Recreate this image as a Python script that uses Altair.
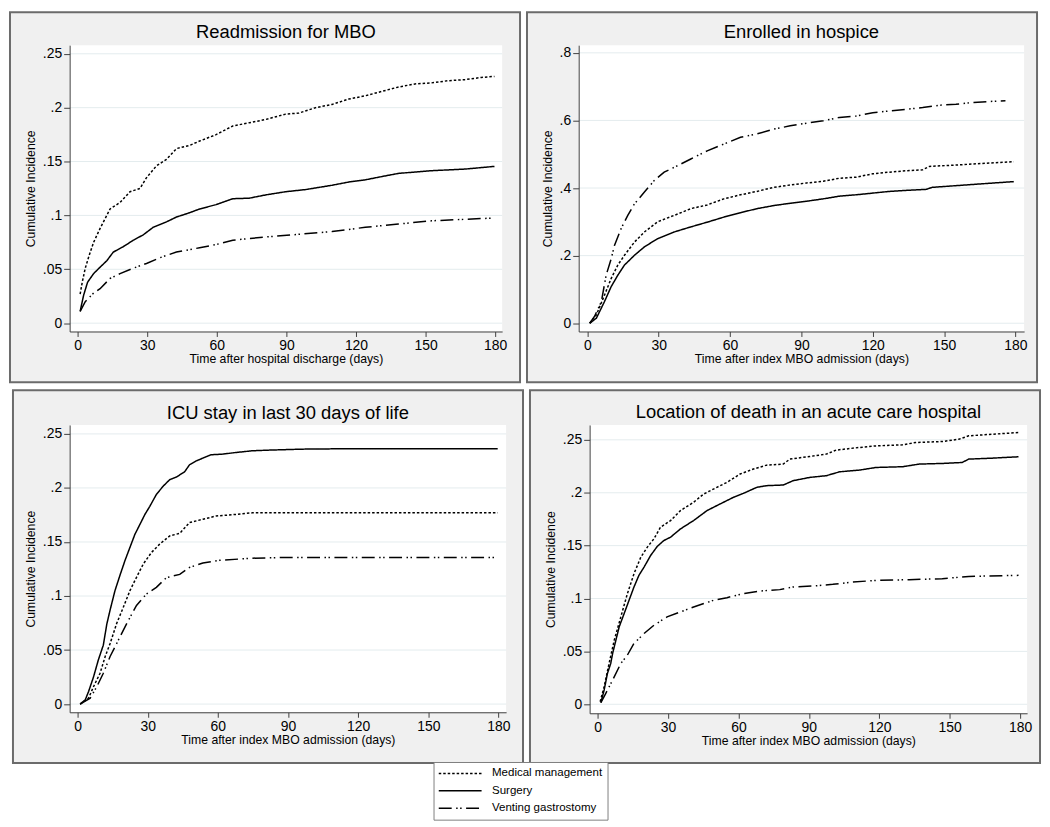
import altair as alt
import pandas as pd

FONT = "Liberation Sans"
GROUPS = ["Medical management", "Surgery", "Venting gastrostomy"]
DASH_PATTERNS = [[2.5, 2.0], [1.0, 0.0], [13.0, 4.5, 1.5, 2.5, 1.5, 4.5]]

TITLES = [
    "Readmission for MBO",
    "Enrolled in hospice",
    "ICU stay in last 30 days of life",
    "Location of death in an acute care hospital",
]
X_TITLES = [
    "Time after hospital discharge (days)",
    "Time after index MBO admission (days)",
    "Time after index MBO admission (days)",
    "Time after index MBO admission (days)",
]
X_TICKS = [0, 30, 60, 90, 120, 150, 180]
Y_TICKS_A = [0, 0.05, 0.1, 0.15, 0.2, 0.25]
Y_TICKS_B = [0, 0.2, 0.4, 0.6, 0.8]

# ---- Panel 1: Readmission for MBO ----
p1_med_day = [1.1, 2, 3.3, 5, 6.9, 9.7, 14, 18.3, 22.6, 26.9, 29.7, 34, 38.3, 42.6, 48.3, 52.6, 59.7,
              66.9, 74, 81, 89.7, 95.4, 102.6, 109.7, 116.9, 124, 131, 138, 145.4, 152.6, 159.7,
              166.9, 174, 179.7]
p1_med_ci = [0.027, 0.038, 0.051, 0.063, 0.075, 0.088, 0.106, 0.112, 0.122, 0.125, 0.135, 0.146,
             0.152, 0.162, 0.165, 0.169, 0.175, 0.183, 0.186, 0.189, 0.194, 0.195, 0.200, 0.203,
             0.208, 0.211, 0.215, 0.219, 0.222, 0.223, 0.225, 0.226, 0.228, 0.229]
p1_sur_day = [1.1, 2.6, 4.3, 6.9, 9.7, 12.6, 15.4, 19.7, 24, 28.3, 32.6, 38.3, 42.6, 48.3, 52.6,
              59.7, 66.9, 74, 81, 89.7, 98.3, 109.7, 116.9, 124, 131, 138.3, 152.6, 167, 179.7]
p1_sur_ci = [0.011, 0.026, 0.038, 0.046, 0.052, 0.058, 0.066, 0.071, 0.077, 0.082, 0.089, 0.094,
             0.0985, 0.1025, 0.106, 0.110, 0.1155, 0.116, 0.119, 0.122, 0.124, 0.128, 0.131, 0.133,
             0.136, 0.139, 0.1415, 0.143, 0.1455]
p1_ven_day = [1.1, 3.3, 6.9, 9.7, 14, 18.3, 24, 29.7, 35.4, 42.6, 52.6, 59.7, 66.9, 81, 95.4, 109.7,
              124, 138.3, 152.6, 167, 179.7]
p1_ven_ci = [0.011, 0.02, 0.028, 0.032, 0.0415, 0.046, 0.051, 0.0554, 0.0607, 0.066, 0.070, 0.073,
             0.077, 0.080, 0.0825, 0.085, 0.089, 0.092, 0.095, 0.0964, 0.0976]

# ---- Panel 2: Enrolled in hospice ----
p2_med_day = [1, 3.8, 7.2, 10, 12.8, 15.6, 19.8, 24, 29.5, 36.5, 43.5, 50.4, 57.4, 64.4, 71.3, 78.3,
              85.3, 92.2, 99.2, 106, 113, 120, 127, 134, 141, 143.8, 155, 169, 179.3]
p2_med_ci = [0, 0.025, 0.083, 0.132, 0.172, 0.201, 0.24, 0.27, 0.30, 0.319, 0.339, 0.35, 0.368, 0.38,
             0.39, 0.402, 0.409, 0.415, 0.42, 0.429, 0.432, 0.442, 0.447, 0.451, 0.454, 0.464, 0.468,
             0.474, 0.478]
p2_sur_day = [1, 3.8, 7.2, 10, 12.8, 15.6, 19.8, 24, 29.5, 36.5, 43.5, 50.4, 57.4, 64.4, 71.3, 78.3,
              85.3, 92.2, 99.2, 106, 113, 120, 127, 134, 142.4, 145, 155, 169, 179.3]
p2_sur_ci = [0, 0.015, 0.064, 0.108, 0.142, 0.172, 0.201, 0.226, 0.25, 0.27, 0.285, 0.299, 0.314,
             0.327, 0.339, 0.348, 0.355, 0.361, 0.368, 0.376, 0.38, 0.385, 0.39, 0.393, 0.396, 0.402,
             0.407, 0.414, 0.419]
p2_ven_day = [1, 3, 5.9, 7.9, 10, 11.4, 14.2, 17, 19.8, 24, 28.1, 32.3, 37.9, 43.5, 50.4, 57.4, 64.4,
              71.3, 78.3, 85.3, 92.2, 99.2, 106, 113, 120, 127, 134, 141, 148, 155, 162, 171.6, 175.8]
p2_ven_ci = [0, 0.02, 0.064, 0.142, 0.19, 0.23, 0.28, 0.319, 0.353, 0.388, 0.422, 0.447, 0.466,
             0.486, 0.51, 0.53, 0.55, 0.56, 0.574, 0.584, 0.592, 0.599, 0.609, 0.613, 0.623, 0.628,
             0.633, 0.638, 0.645, 0.648, 0.653, 0.657, 0.658]

# ---- Panel 3: ICU stay in last 30 days of life ----
p3_med_day = [1.1, 4.7, 6.8, 9.6, 11.8, 13.9, 16.7, 19.6, 22.4, 25.2, 28.1, 31.6, 35.1, 39.4, 43.7,
              47.9, 53.6, 59.2, 67.7, 74.8, 179.7]
p3_med_ci = [0, 0.0055, 0.016, 0.0285, 0.044, 0.056, 0.0745, 0.0898, 0.105, 0.1173, 0.1296, 0.1403,
             0.148, 0.1556, 0.158, 0.168, 0.171, 0.174, 0.1755, 0.177, 0.177]
p3_sur_day = [1.1, 3.3, 4.7, 6.8, 8.9, 11, 12.5, 13.9, 16, 18.1, 20.3, 22.4, 24.5, 26.6, 28.8, 30.9,
              33.7, 36.6, 39.4, 42.2, 45.8, 47.9, 50.7, 53.6, 57.1, 62.1, 67.7, 74.8, 81.9, 96, 110,
              179.7]
p3_sur_ci = [0, 0.004, 0.0116, 0.025, 0.041, 0.0545, 0.074, 0.087, 0.105, 0.119, 0.133, 0.145,
             0.157, 0.166, 0.1755, 0.183, 0.194, 0.2016, 0.2077, 0.21, 0.215, 0.2215, 0.225, 0.2276,
             0.2307, 0.2313, 0.2328, 0.2344, 0.235, 0.2359, 0.2362, 0.2362]
p3_ven_day = [1.1, 5.4, 8.2, 11, 13.9, 17.4, 21, 25.2, 29.5, 33.7, 38, 43.7, 47.9, 53.6, 60.7, 74.8,
              89, 179.7]
p3_ven_ci = [0, 0.0055, 0.016, 0.0285, 0.044, 0.059, 0.0744, 0.0913, 0.102, 0.108, 0.117, 0.12,
             0.1265, 0.1305, 0.133, 0.135, 0.1357, 0.1357]

# ---- Panel 4: Location of death in an acute care hospital ----
p4_med_day = [1.1, 2.8, 4.9, 7.1, 9.9, 12.7, 15.5, 18.4, 21.2, 24, 26.8, 31.1, 35.3, 40.9, 45.2,
              50.8, 55.1, 60.7, 66.4, 72, 79.1, 81.9, 90.4, 97.4, 101.6, 111.5, 118.6, 129.9, 135.5,
              146.8, 153.9, 158.1, 168, 179.3]
p4_med_ci = [0.0025, 0.0166, 0.0386, 0.0606, 0.0826, 0.1046, 0.1234, 0.139, 0.1486, 0.1564, 0.1674,
             0.1737, 0.1831, 0.191, 0.1988, 0.2051, 0.2098, 0.2177, 0.2224, 0.2261, 0.2271, 0.2318,
             0.2343, 0.2365, 0.2403, 0.2428, 0.2443, 0.2453, 0.2475, 0.2484, 0.2506, 0.2538, 0.2553,
             0.2569]
p4_sur_day = [1.4, 2.8, 4.2, 5.6, 6.4, 7.8, 9.2, 11.3, 13.4, 15.5, 17.6, 19.8, 22.6, 25.4, 28.2,
              31.1, 35.3, 40.9, 46.6, 52.2, 57.9, 62.1, 67.8, 72, 79.1, 83.3, 90.4, 97.4, 103.1,
              111.5, 118.6, 129.9, 137, 146.8, 155.3, 158.1, 168, 179.3]
p4_sur_ci = [0.0016, 0.0135, 0.0292, 0.0386, 0.048, 0.0606, 0.0732, 0.0857, 0.0983, 0.1109, 0.1219,
             0.1297, 0.1407, 0.1492, 0.1548, 0.158, 0.1658, 0.1737, 0.1831, 0.1894, 0.1957, 0.1994,
             0.2051, 0.2067, 0.2073, 0.2114, 0.2145, 0.2161, 0.2198, 0.2214, 0.2239, 0.2246, 0.2271,
             0.2277, 0.2286, 0.2318, 0.2327, 0.234]
p4_ven_day = [1.4, 3.5, 6.4, 9.9, 12.7, 15.5, 19.8, 24, 29.6, 35.3, 40.9, 49.4, 55.1, 62.1, 69.2,
              77.6, 83.3, 91.8, 100.2, 108.7, 118.6, 132.7, 146.8, 158.1, 179.3]
p4_ven_ci = [0.0016, 0.0104, 0.0229, 0.0386, 0.0465, 0.0575, 0.0669, 0.0747, 0.0826, 0.0873, 0.092,
             0.0983, 0.1008, 0.1046, 0.1071, 0.1084, 0.1109, 0.1118, 0.1134, 0.1156, 0.1171, 0.1178,
             0.1187, 0.1209, 0.1219]

CURVES = [
    [(p1_med_day, p1_med_ci), (p1_sur_day, p1_sur_ci), (p1_ven_day, p1_ven_ci)],
    [(p2_med_day, p2_med_ci), (p2_sur_day, p2_sur_ci), (p2_ven_day, p2_ven_ci)],
    [(p3_med_day, p3_med_ci), (p3_sur_day, p3_sur_ci), (p3_ven_day, p3_ven_ci)],
    [(p4_med_day, p4_med_ci), (p4_sur_day, p4_sur_ci), (p4_ven_day, p4_ven_ci)],
]
Y_TICKS = [Y_TICKS_A, Y_TICKS_B, Y_TICKS_A, Y_TICKS_A]

# ---- layout / style (not data) ----
LAYOUT = [
    dict(w=435, h=288, left=61, right=19, top=34, bottom=52, xdom=[-3.43, 183.0], ydom=[-0.0077, 0.258], tb=6.7),
    dict(w=448, h=288, left=53, right=14, top=34, bottom=52, xdom=[-3.64, 183.64], ydom=[-0.0244, 0.8227], tb=6.7),
    dict(w=439, h=289, left=58, right=18, top=36, bottom=52, xdom=[-3.4, 183.3], ydom=[-0.0076, 0.2583], tb=5.8),
    dict(w=440, h=290, left=61, right=14, top=36, bottom=51, xdom=[-3.39, 182.96], ydom=[-0.0085, 0.2641], tb=6.5),
]
PANEL_BG = "#F0F0F0"
PANEL_BORDER = "#6B6B6B"
GRID = "#E4ECEE"
AXIS = "#404040"

# legend position is relative to the first panel's plot origin
LEGEND = alt.Legend(
    title=None, orient="none", legendX=366, legendY=721, direction="vertical",
    symbolType="M-4,0L4,0", symbolSize=116, symbolStrokeWidth=1.5, symbolStrokeColor="black",
    symbolOffset=15.3, labelOffset=25.5, labelFontSize=11.6, labelColor="black", labelFont=FONT,
    labelLimit=400, rowPadding=4.5, padding=5, strokeColor="#7F7F7F", fillColor="white",
)


def make_panel(i):
    L = LAYOUT[i]
    w, h = L["w"], L["h"]
    rows = []
    for g, (days, vals) in zip(GROUPS, CURVES[i]):
        assert len(days) == len(vals), (i, g, len(days), len(vals))
        for d, v in zip(days, vals):
            rows.append({"day": d, "ci": v, "group": g})
    df = pd.DataFrame(rows)
    one = pd.DataFrame({"k": [0]})

    xscale = alt.Scale(domain=L["xdom"], nice=False, zero=False)
    yscale = alt.Scale(domain=L["ydom"], nice=False, zero=False)
    yax = alt.Axis(
        values=Y_TICKS[i], title="Cumulative Incidence",
        labelExpr="datum.value == 0 ? '0' : replace(format(datum.value, '.2~f'), '0.', '.')",
        labelFont=FONT, labelFontSize=14, labelColor="black", labelAngle=0, labelPadding=2,
        tickSize=6, tickColor=AXIS, domainColor=AXIS, tickWidth=1, domainWidth=1,
        titleFont=FONT, titleFontSize=12.3, titleFontWeight="normal", titleColor="black",
        titlePadding=5, grid=False, zindex=1, labelFlush=False, labelOverlap=False,
    )
    xax = alt.Axis(
        values=X_TICKS, title=X_TITLES[i], format="d",
        labelFont=FONT, labelFontSize=14, labelColor="black", labelPadding=2,
        tickSize=5, tickColor=AXIS, domainColor=AXIS, tickWidth=1, domainWidth=1,
        titleFont=FONT, titleFontSize=12.3, titleFontWeight="normal", titleColor="black",
        titlePadding=0, grid=False, zindex=1, labelFlush=False, labelOverlap=False,
    )

    bg = alt.Chart(one).mark_rect(fill=PANEL_BG, stroke=PANEL_BORDER, strokeWidth=2).encode(
        x=alt.value(-L["left"] + 1), x2=alt.value(w + L["right"] - 1),
        y=alt.value(-L["top"] + 1), y2=alt.value(h + L["bottom"] - 1),
    )
    plot = alt.Chart(one).mark_rect(fill="white").encode(
        x=alt.value(0), x2=alt.value(w), y=alt.value(0), y2=alt.value(h),
    )
    title = alt.Chart(one).mark_text(
        font=FONT, fontSize=18.5, color="black", align="center", baseline="alphabetic"
    ).encode(x=alt.value(w / 2), y=alt.value(-L["tb"]), text=alt.value(TITLES[i]))
    grid = alt.Chart(pd.DataFrame({"v": Y_TICKS[i]})).mark_rule(color=GRID, strokeWidth=1).encode(
        y=alt.Y("v:Q", scale=yscale, axis=yax),
    )
    lines = alt.Chart(df).mark_line(color="black", strokeWidth=1.5).encode(
        x=alt.X("day:Q", scale=xscale, axis=xax),
        y=alt.Y("ci:Q", scale=yscale, axis=yax),
        strokeDash=alt.StrokeDash("group:N", scale=alt.Scale(domain=GROUPS, range=DASH_PATTERNS),
                                  legend=LEGEND),
        order=alt.Order("day:Q"),
    )
    return alt.layer(bg, plot, title, grid, lines).properties(width=w, height=h)


panels = [make_panel(i) for i in range(4)]
chart = alt.vconcat(
    alt.hconcat(panels[0], panels[1], spacing=3),
    alt.hconcat(panels[2], panels[3], spacing=3),
    spacing=4,
).properties(padding=0, background="white").configure_view(stroke="transparent")

chart.save("out.html", embed_options={"renderer": "svg", "actions": False})
